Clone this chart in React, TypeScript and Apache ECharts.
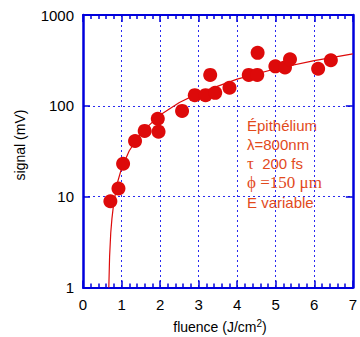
import React, { useEffect, useRef } from "react";
import * as echarts from "echarts";

// measured points: fluence (J/cm2), signal (mV)
const fluence = [0.71, 0.92, 1.04, 1.35, 1.6, 1.94, 1.96, 2.57, 2.9, 3.18, 3.3, 3.43, 3.8, 4.3, 4.52, 4.53, 4.99, 5.24, 5.37, 6.1, 6.43];
const signal = [8.9, 12.3, 23, 41, 53, 72, 52, 88, 131, 131, 219, 139, 158, 219, 219, 383, 272, 265, 325, 256, 318];

// fit curve
const fitFluence = [0.67, 0.69, 0.72, 0.75, 0.8, 0.9, 1.0, 1.2, 1.5, 2.0, 2.5, 3.0, 4.0, 5.0, 6.0, 7.0];
const fitSignal = [1, 2.2, 4, 5.7, 8.7, 14.6, 20.5, 32, 50, 79.5, 109, 138, 197, 256, 315, 374];

const xTicks = [0, 7, 1];
const yTicks = [1, 1000];

const noteLines = ["Épithélium", "λ=800nm", "{s|τ}  200 fs", "{s|ϕ =150 μm}", "E variable"];

const AXIS_BLUE = "#0000dd";
const GRID_BLUE = "#2a2af0";
const RED = "#dd0a0a";
const NOTE = "#e24a1c";

export default function App() {
  const ref = useRef<HTMLDivElement>(null);
  useEffect(() => {
    const chart = echarts.init(ref.current!, undefined, { renderer: "svg" });
    const scatterData = fluence.map((f, i) => [f, signal[i]]);
    const fitData = fitFluence.map((f, i) => [f, fitSignal[i]]);
    const font = "Liberation Sans, Arial, sans-serif";
    const serif = "Liberation Serif, Times New Roman, serif";
    chart.setOption({
      animation: false,
      grid: { left: 83, right: 2.5, top: 15, bottom: 49.5 },
      xAxis: [
        {
          type: "value",
          min: xTicks[0],
          max: xTicks[1],
          interval: xTicks[2],
          axisLine: { show: true, onZero: false, lineStyle: { color: AXIS_BLUE, width: 2 } },
          axisTick: { show: true, inside: true, length: 7, lineStyle: { color: AXIS_BLUE, width: 1.5 } },
          minorTick: { show: true, splitNumber: 5, length: 4, lineStyle: { color: AXIS_BLUE, width: 1.5 } },
          axisLabel: { color: "#000", fontSize: 15, fontFamily: font, margin: 9 },
          splitLine: { show: true, lineStyle: { color: GRID_BLUE, type: [2, 3], width: 1 } },
        },
        {
          type: "value",
          position: "top",
          min: xTicks[0],
          max: xTicks[1],
          interval: xTicks[2],
          axisLine: { show: true, onZero: false, lineStyle: { color: AXIS_BLUE, width: 2 } },
          axisTick: { show: true, inside: true, length: 7, lineStyle: { color: AXIS_BLUE, width: 1.5 } },
          minorTick: { show: true, splitNumber: 5, length: 4, lineStyle: { color: AXIS_BLUE, width: 1.5 } },
          axisLabel: { show: false },
          splitLine: { show: false },
        },
      ],
      yAxis: [
        {
          type: "log",
          logBase: 10,
          min: yTicks[0],
          max: yTicks[1],
          axisLine: { show: true, onZero: false, lineStyle: { color: AXIS_BLUE, width: 2.5 } },
          axisTick: { show: true, inside: true, length: 7, lineStyle: { color: AXIS_BLUE, width: 1.5 } },
          axisLabel: {
            color: "#000",
            fontSize: 15,
            fontFamily: font,
            margin: 9,
            formatter: (v: number) => String(Math.round(v)),
          },
          splitLine: { show: true, lineStyle: { color: GRID_BLUE, type: [2, 3], width: 1 } },
        },
        {
          type: "log",
          logBase: 10,
          min: yTicks[0],
          max: yTicks[1],
          position: "right",
          axisLine: { show: true, onZero: false, lineStyle: { color: AXIS_BLUE, width: 2.5 } },
          axisTick: { show: true, inside: true, length: 7, lineStyle: { color: AXIS_BLUE, width: 1.5 } },
          axisLabel: { show: false },
          splitLine: { show: false },
        },
      ],
      series: [
        {
          type: "line",
          data: fitData,
          showSymbol: false,
          symbol: "none",
          lineStyle: { color: RED, width: 1.2 },
          z: 2,
        },
        {
          type: "scatter",
          data: scatterData,
          symbol: "circle",
          symbolSize: 14,
          itemStyle: { color: RED, opacity: 1 },
          z: 3,
        },
      ],
      graphic: [
        {
          type: "text",
          x: 20,
          y: 145,
          rotation: Math.PI / 2,
          style: {
            text: "signal (mV)",
            font: `14px ${font}`,
            fill: "#000",
            textAlign: "center",
            textVerticalAlign: "middle",
          },
        },
        {
          type: "text",
          x: 220,
          y: 327,
          style: {
            text: "fluence (J/cm{sup|2})",
            font: `14px ${font}`,
            fill: "#000",
            textAlign: "center",
            textVerticalAlign: "middle",
            rich: {
              sup: { fontSize: 10, verticalAlign: "top", padding: [0, 0, 8, 0], fontFamily: font, fill: "#000" },
            },
          },
        },
        ...noteLines.map((s, i) => ({
          type: "text",
          x: 247,
          y: 125 + i * 19.3,
          style: {
            text: s,
            font: `15px ${font}`,
            fill: NOTE,
            textAlign: "left",
            textVerticalAlign: "middle",
            rich: {
              s: { fontFamily: serif, fontSize: 17, fill: NOTE },
            },
          },
        })),
      ],
    });
    return () => chart.dispose();
  }, []);
  return <div ref={ref} style={{ width: 360, height: 337, position: "absolute", left: 0, top: 0 }} />;
}
